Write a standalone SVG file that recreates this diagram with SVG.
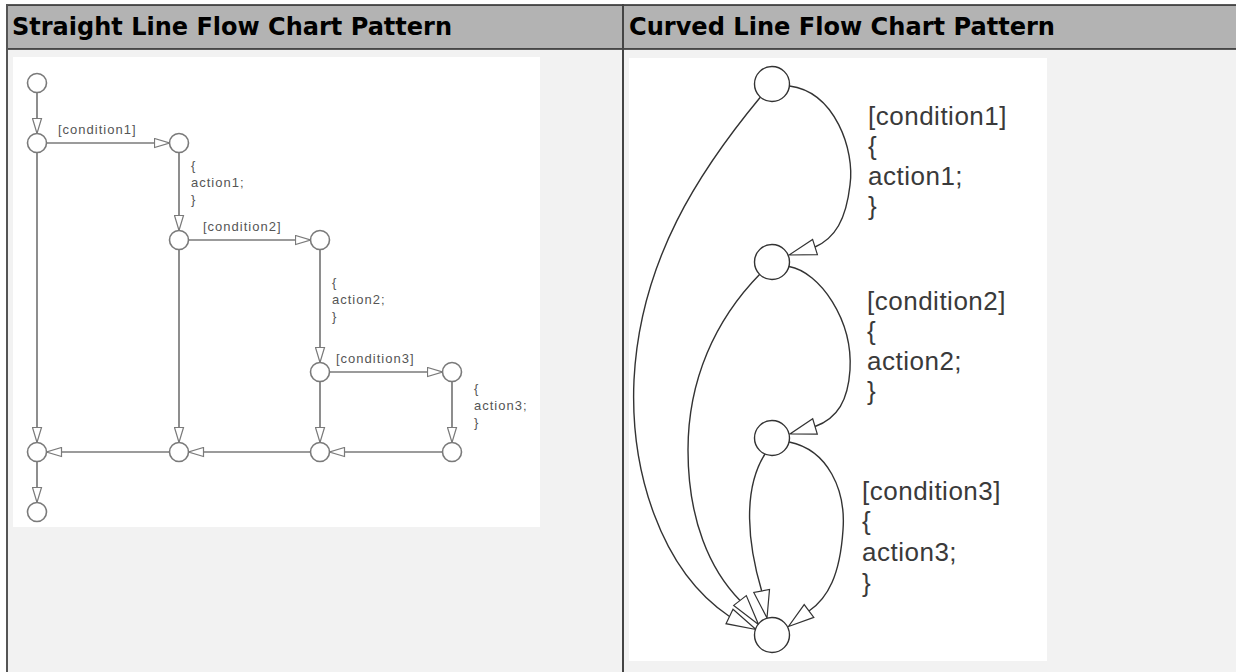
<svg xmlns="http://www.w3.org/2000/svg" width="1236" height="672" viewBox="0 0 1236 672">
<style>
.hdr{font-family:"DejaVu Sans",sans-serif;font-weight:bold;font-size:24px;fill:#000}
.lt{font-family:"Liberation Sans",Arial,sans-serif;font-size:13px;letter-spacing:1px;fill:#555}
.rt{font-family:"Liberation Sans",Arial,sans-serif;font-size:26px;letter-spacing:0.5px;fill:#3a3a3a}
.ln{fill:none;stroke:#7a7a7a;stroke-width:1.7}
.ln-end{marker-end:url(#ah)}
.nl{fill:#fff;stroke:#7a7a7a;stroke-width:1.6}
.cv{fill:none;stroke:#333;stroke-width:1.4}
.nr{fill:#fff;stroke:#333;stroke-width:1.4}
.ar{fill:#fff;stroke:#333;stroke-width:1.2;stroke-linejoin:miter}
</style>
<defs>
<marker id="ah" markerUnits="userSpaceOnUse" markerWidth="17" markerHeight="11" refX="16" refY="5.5" orient="auto">
<path d="M1,1 L16,5.5 L1,10 Z" fill="#fff" stroke="#7a7a7a" stroke-width="1.2"/>
</marker>
</defs>
<g id="frame">
<rect x="0" y="0" width="1236" height="672" fill="#fff"/>
<rect x="7" y="5" width="1229" height="44" fill="#b3b3b3"/>
<rect x="7" y="50" width="1229" height="622" fill="#f2f2f2"/>
<line x1="6" y1="5" x2="1236" y2="5" stroke="#222" stroke-width="1.5"/>
<line x1="6" y1="49" x2="1236" y2="49" stroke="#222" stroke-width="1.5"/>
<line x1="7" y1="4" x2="7" y2="672" stroke="#555" stroke-width="2"/>
<line x1="623" y1="4" x2="623" y2="672" stroke="#444" stroke-width="2"/>
<rect x="13" y="57" width="527" height="470" fill="#fff"/>
<rect x="629" y="58" width="418" height="603" fill="#fff"/>
<text class="hdr" x="12" y="35" textLength="440" lengthAdjust="spacingAndGlyphs">Straight Line Flow Chart Pattern</text>
<text class="hdr" x="629" y="35" textLength="426" lengthAdjust="spacingAndGlyphs">Curved Line Flow Chart Pattern</text>
</g>
<g id="connectors-left">
<line class="ln ln-end" x1="37" y1="92.5" x2="37" y2="133.5"/>
<line class="ln ln-end" x1="46.5" y1="143" x2="169.5" y2="143"/>
<line class="ln ln-end" x1="179" y1="152.5" x2="179" y2="230.5"/>
<line class="ln ln-end" x1="188.5" y1="240" x2="310.5" y2="240"/>
<line class="ln ln-end" x1="320" y1="249.5" x2="320" y2="362.5"/>
<line class="ln ln-end" x1="329.5" y1="372" x2="442.5" y2="372"/>
<line class="ln ln-end" x1="452" y1="381.5" x2="452" y2="442.5"/>
<line class="ln ln-end" x1="442.5" y1="452" x2="329.5" y2="452"/>
<line class="ln ln-end" x1="310.5" y1="452" x2="188.5" y2="452"/>
<line class="ln ln-end" x1="169.5" y1="452" x2="46.5" y2="452"/>
<line class="ln ln-end" x1="37" y1="152.5" x2="37" y2="442.5"/>
<line class="ln ln-end" x1="179" y1="249.5" x2="179" y2="442.5"/>
<line class="ln ln-end" x1="320" y1="381.5" x2="320" y2="442.5"/>
<line class="ln ln-end" x1="37" y1="461.5" x2="37" y2="502.5"/>
<text class="lt" x="58" y="134">[condition1]</text>
<text class="lt" x="191" y="170">{</text>
<text class="lt" x="191" y="187">action1;</text>
<text class="lt" x="191" y="204">}</text>
<text class="lt" x="203" y="231">[condition2]</text>
<text class="lt" x="332" y="287">{</text>
<text class="lt" x="332" y="304">action2;</text>
<text class="lt" x="332" y="321">}</text>
<text class="lt" x="336" y="363">[condition3]</text>
<text class="lt" x="474" y="393">{</text>
<text class="lt" x="474" y="410">action3;</text>
<text class="lt" x="474" y="427">}</text>
</g>
<g id="node-l-start"><circle class="nl" cx="37" cy="83" r="9.5"/></g>
<g id="node-l-b"><circle class="nl" cx="37" cy="143" r="9.5"/></g>
<g id="node-l-c"><circle class="nl" cx="179" cy="143" r="9.5"/></g>
<g id="node-l-d"><circle class="nl" cx="179" cy="240" r="9.5"/></g>
<g id="node-l-e"><circle class="nl" cx="320" cy="240" r="9.5"/></g>
<g id="node-l-f"><circle class="nl" cx="320" cy="372" r="9.5"/></g>
<g id="node-l-g"><circle class="nl" cx="452" cy="372" r="9.5"/></g>
<g id="node-l-h"><circle class="nl" cx="37" cy="452" r="9.5"/></g>
<g id="node-l-i"><circle class="nl" cx="179" cy="452" r="9.5"/></g>
<g id="node-l-j"><circle class="nl" cx="320" cy="452" r="9.5"/></g>
<g id="node-l-k"><circle class="nl" cx="452" cy="452" r="9.5"/></g>
<g id="node-l-end"><circle class="nl" cx="37" cy="512" r="9.5"/></g>
<g id="connectors-right">
<path class="cv" d="M789.5 86 C835 92, 855 150, 850 185 C846 220, 835 238, 815 247"/>
<path class="cv" d="M789 266.5 C820 272, 853 320, 850 370 C848 400, 838 418, 815 426.5"/>
<path class="cv" d="M789.2 442 C828 450, 846 490, 843 530 C840 575, 828 598, 809 611"/>
<path class="cv" d="M760.5 97 C700 170, 640 260, 634 380 C630 470, 660 570, 729.5 616.5"/>
<path class="cv" d="M760 274 C715 320, 688 380, 688 450 C688 520, 710 570, 740 600.5"/>
<path class="cv" d="M765 454 C742 490, 748 545, 761.7 591"/>
<polygon class="ar" points="789,255 817.4,254.6 812.6,239.4"/>
<polygon class="ar" points="790,434 817.3,434.2 812.7,418.8"/>
<polygon class="ar" points="788.5,626.5 813.8,617.4 804.2,604.6"/>
<polygon class="ar" points="756,629.5 726,623.7 733,609.3"/>
<polygon class="ar" points="758.5,624.5 733.7,605.4 746.3,595.6"/>
<polygon class="ar" points="767,618 769.5,589.5 753.8,592.5"/>
<text class="rt" x="868" y="125">[condition1]</text>
<text class="rt" x="868" y="155">{</text>
<text class="rt" x="868" y="185">action1;</text>
<text class="rt" x="868" y="215">}</text>
<text class="rt" x="867" y="310">[condition2]</text>
<text class="rt" x="867" y="340">{</text>
<text class="rt" x="867" y="370">action2;</text>
<text class="rt" x="867" y="400">}</text>
<text class="rt" x="862" y="500">[condition3]</text>
<text class="rt" x="862" y="530">{</text>
<text class="rt" x="862" y="561">action3;</text>
<text class="rt" x="862" y="592">}</text>
</g>
<g id="node-r-1"><circle class="nr" cx="772" cy="84" r="17.5"/></g>
<g id="node-r-2"><circle class="nr" cx="772" cy="262" r="17.5"/></g>
<g id="node-r-3"><circle class="nr" cx="772" cy="438" r="17.5"/></g>
<g id="node-r-4"><circle class="nr" cx="772" cy="635" r="17.5"/></g>
</svg>
